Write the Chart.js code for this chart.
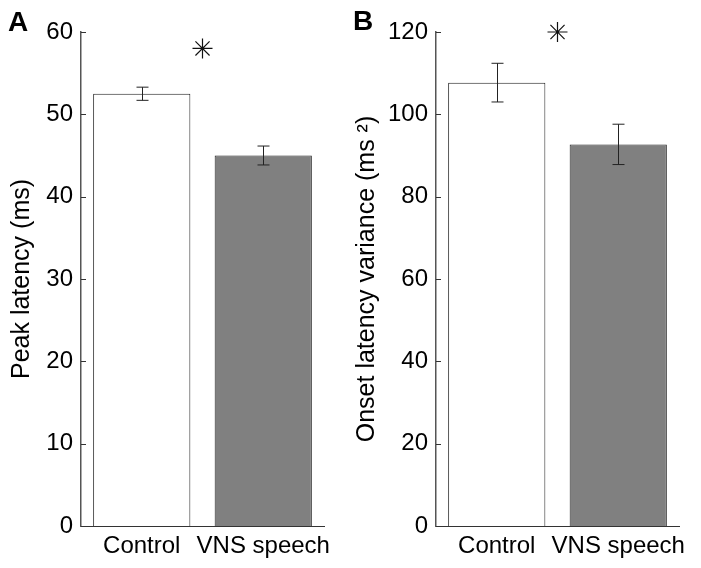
<!DOCTYPE html>
<html><head><meta charset="utf-8">
<script src="https://cdn.jsdelivr.net/npm/chart.js@4/dist/chart.umd.min.js"></script>
<style>
body{margin:0;background:#fff;width:701px;height:568px;position:relative;overflow:hidden}
canvas{position:absolute;top:0}
#ca{left:0}#cb{left:350px}
</style></head><body>
<canvas id="ca" width="350" height="568"></canvas>
<canvas id="cb" width="351" height="568"></canvas>
<script>
const categories = ['Control', 'VNS speech'];
const categoryPositions = [1, 2];
const peakLatency = [52.5, 45.0];
const peakLatencyErr = [0.8, 1.15];
const peakTicks = [0, 10, 20, 30, 40, 50, 60];
const peakSignificance = [{x: 1.5, y: 58}];
const onsetVariance = [107.7, 92.7];
const onsetVarianceErr = [4.7, 4.9];
const varianceTicks = [0, 20, 40, 60, 80, 100, 120];
const varianceSignificance = [{x: 1.5, y: 120}];
const barColors = ['#ffffff', '#808080'];

const FONT = '"Liberation Sans", Arial, sans-serif';

function makeChart(id, values, errs, ticks, sig, yTitle, letter, opts) {
  const errPlugin = {
    id: 'err' + id,
    afterDatasetsDraw(chart) {
      const ctx = chart.ctx, y = chart.scales.y;
      const meta = chart.getDatasetMeta(0);
      ctx.save();
      ctx.strokeStyle = '#222';
      ctx.lineWidth = 1;
      meta.data.forEach((el, i) => {
        const x = Math.round(el.x) + 0.5;
        const t = y.getPixelForValue(values[i] + errs[i]);
        const b = y.getPixelForValue(values[i] - errs[i]);
        ctx.beginPath();
        ctx.moveTo(x, t); ctx.lineTo(x, b);
        ctx.moveTo(x - 6, t); ctx.lineTo(x + 6, t);
        ctx.moveTo(x - 6, b); ctx.lineTo(x + 6, b);
        ctx.stroke();
      });
      ctx.restore();
    },
    afterDraw(chart) {
      const ctx = chart.ctx, y = chart.scales.y, a = chart.chartArea;
      ctx.save();
      ctx.strokeStyle = '#333';
      ctx.lineWidth = 1;
      ticks.forEach(v => {
        const py = Math.round(y.getPixelForValue(v)) + 0.5;
        ctx.beginPath(); ctx.moveTo(a.left, py); ctx.lineTo(a.left + 5, py); ctx.stroke();
      });
      ctx.fillStyle = '#000';
      ctx.font = 'bold 28px ' + FONT;
      ctx.textBaseline = 'alphabetic';
      ctx.fillText(letter, opts.letterX, opts.letterY);
      ctx.restore();
    }
  };
  return new Chart(document.getElementById(id), {
    data: {
      datasets: [
        {
          type: 'bar',
          data: categoryPositions.map((x, i) => ({x, y: values[i]})),
          backgroundColor: barColors,
          borderColor: '#222',
          borderWidth: 1,
          barPercentage: 0.8,
          categoryPercentage: 1.0
        },
        {
          type: 'scatter',
          data: sig,
          pointStyle: 'star',
          radius: 10,
          borderColor: '#111',
          borderWidth: 1.2,
          clip: false
        }
      ]
    },
    options: {
      responsive: false,
      animation: false,
      devicePixelRatio: 1,
      layout: {padding: {left: 0, right: opts.padRight, top: 32, bottom: 0}},
      plugins: {legend: {display: false}, tooltip: {enabled: false}},
      scales: {
        x: {
          type: 'linear',
          min: 0.5, max: 2.5,
          offset: false,
          grid: {display: false, drawTicks: false, offset: false},
          border: {display: true, color: '#333', width: 1},
          afterBuildTicks: s => { s.ticks = categoryPositions.map(v => ({value: v})); },
          afterFit: s => { s.height = 42; },
          ticks: {
            padding: 6,
            maxRotation: 0,
            autoSkip: false,
            color: '#000',
            font: {family: FONT, size: 24},
            callback: v => categories[categoryPositions.indexOf(v)]
          }
        },
        y: {
          type: 'linear',
          min: ticks[0], max: ticks[ticks.length - 1],
          grid: {display: false, drawTicks: false},
          border: {display: true, color: '#555', width: 1.5},
          afterBuildTicks: s => { s.ticks = ticks.map(v => ({value: v})); },
          afterFit: s => { s.width = opts.axisWidth; },
          ticks: {padding: 8, color: '#000', font: {family: FONT, size: 24}},
          title: {
            display: true, text: yTitle, color: '#000',
            font: {family: FONT, size: 25},
            padding: {top: opts.titlePad, bottom: 0}
          }
        }
      }
    },
    plugins: [errPlugin]
  });
}

makeChart('ca', peakLatency, peakLatencyErr, peakTicks, peakSignificance,
  'Peak latency (ms)', 'A', {padRight: 26, axisWidth: 81, titlePad: 7, letterX: 8, letterY: 31});
makeChart('cb', onsetVariance, onsetVarianceErr, varianceTicks, varianceSignificance,
  'Onset latency variance (ms \u00B2)', 'B', {padRight: 22, axisWidth: 86, titlePad: 2, letterX: 3, letterY: 30});
</script>
</body></html>
